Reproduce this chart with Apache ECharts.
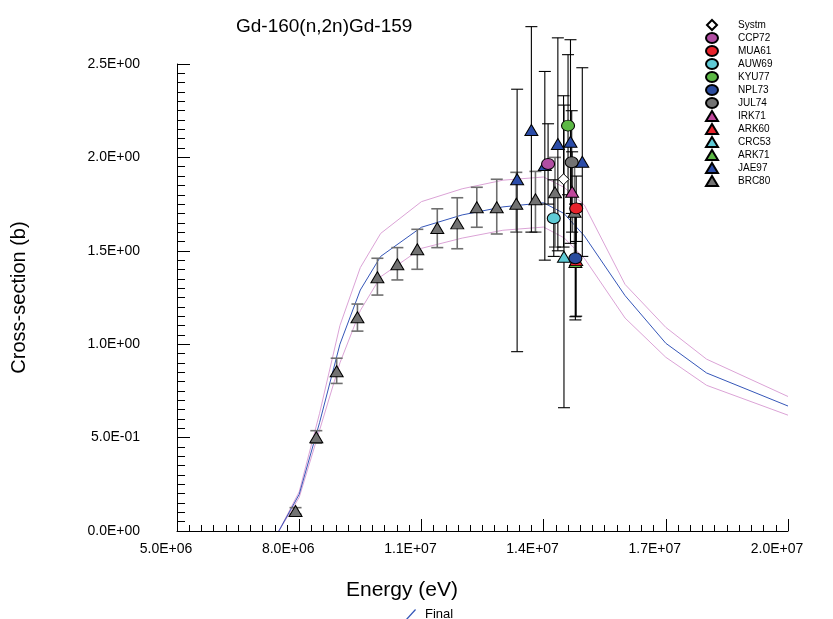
<!DOCTYPE html>
<html><head><meta charset="utf-8">
<script src="https://cdn.jsdelivr.net/npm/echarts@6/dist/echarts.min.js"></script>
<style>html,body{margin:0;padding:0;background:#fff}#c{width:833px;height:619px}</style>
</head><body><div id="c"></div>
<script>
// ---- curves (energy in eV, cross-section in b) ----
var curveE     = [7.5e6, 8.0e6, 8.5e6, 9.0e6, 9.5e6, 1.0e7, 1.1e7, 1.2e7, 1.3e7, 1.4e7, 1.45e7, 1.5e7, 1.6e7, 1.7e7, 1.8e7, 2.0e7];
var finalXS    = [0.0, 0.196, 0.58, 1.00, 1.29, 1.47, 1.626, 1.692, 1.735, 1.757, 1.70, 1.58, 1.26, 1.005, 0.846, 0.669];
var upperXS    = [0.0, 0.21, 0.63, 1.10, 1.41, 1.593, 1.763, 1.832, 1.878, 1.895, 1.84, 1.745, 1.32, 1.09, 0.92, 0.72];
var lowerXS    = [0.0, 0.18, 0.54, 0.90, 1.18, 1.361, 1.513, 1.568, 1.61, 1.627, 1.57, 1.46, 1.14, 0.93, 0.78, 0.62];

// ---- experimental data sets: energy, value, lower bound, upper bound ----
var brc80E  = [7.91e6, 8.42e6, 8.92e6, 9.43e6, 9.92e6, 1.041e7, 1.09e7, 1.139e7, 1.188e7, 1.236e7, 1.285e7, 1.333e7, 1.380e7, 1.428e7, 1.476e7];
var brc80Y  = [0.107, 0.502, 0.855, 1.144, 1.358, 1.428, 1.508, 1.622, 1.647, 1.733, 1.733, 1.752, 1.776, 1.813, 1.709];
var brc80Lo = [0.09, 0.47, 0.79, 1.07, 1.263, 1.344, 1.401, 1.517, 1.511, 1.626, 1.59, 1.60, 1.60, 1.52, 1.45];
var brc80Hi = [0.125, 0.537, 0.925, 1.215, 1.46, 1.517, 1.615, 1.725, 1.784, 1.84, 1.883, 1.92, 1.925, 2.00, 1.95];

var jae97E  = [1.335e7, 1.370e7, 1.403e7, 1.435e7, 1.466e7, 1.495e7];
var jae97Y  = [1.883, 2.147, 1.959, 2.072, 2.084, 1.977];
var jae97Lo = [0.96, 1.60, 1.45, 1.50, 1.54, 1.47];
var jae97Hi = [2.365, 2.70, 2.46, 2.64, 2.63, 2.48];

var systmE = [1.449e7], systmY = [1.883], systmLo = [1.52], systmHi = [2.33];
var ccp72E = [1.411e7], ccp72Y = [1.965], ccp72Lo = [1.75], ccp72Hi = [2.18];
var mua61E = [1.480e7], mua61Y = [1.727], mua61Lo = [1.55], mua61Hi = [1.90];
var auw69E = [1.425e7], auw69Y = [1.674], auw69Lo = [1.47], auw69Hi = [1.88];
var kyu77E = [1.460e7], kyu77Y = [2.17], kyu77Lo = [1.80], kyu77Hi = [2.55];
var npl73E = [1.478e7], npl73Y = [1.46], npl73Lo = [1.147], npl73Hi = [1.75];
var jul74E = [1.469e7], jul74Y = [1.974], jul74Lo = [1.70], jul74Hi = [2.25];
var irk71E = [1.470e7], irk71Y = [1.816], irk71Lo = [1.60], irk71Hi = [2.03];
var ark60E = [1.480e7], ark60Y = [1.45], ark60Lo = [1.15], ark60Hi = [1.75];
var crc53E = [1.450e7], crc53Y = [1.468], crc53Lo = [0.66], crc53Hi = [2.28];
var ark71E = [1.478e7], ark71Y = [1.44], ark71Lo = [1.13], ark71Hi = [1.75];

var xTicks = [5e6, 8e6, 1.1e7, 1.4e7, 1.7e7, 2e7];
var yTicks = [0, 0.5, 1.0, 1.5, 2.0, 2.5];

function sci(v){
  if (v === 0) return '0.0E+00';
  var e = Math.floor(Math.log10(Math.abs(v)) + 1e-9);
  var m = v / Math.pow(10, e);
  var s = m.toFixed(1);
  if (s === '10.0') { e++; s = '1.0'; }
  var ae = Math.abs(e);
  return s + 'E' + (e < 0 ? '-' : '+') + (ae < 10 ? '0' : '') + ae;
}
function zip(a, b){ return a.map(function(v, i){ return [v, b[i]]; }); }
function zip3(a, b, c){ return a.map(function(v, i){ return [v, b[i], c[i]]; }); }

var ELLIPSE = 'path://M0,5A6,5 0 1,0 12,5A6,5 0 1,0 0,5Z';
var DIAMOND = 'path://M6,0L12,6L6,12L0,6Z';

var sets = [
  {name:'Systm', E:systmE, Y:systmY, Lo:systmLo, Hi:systmHi, sym:DIAMOND, size:[11,11], color:'#ffffff', bar:'#000'},
  {name:'CCP72', E:ccp72E, Y:ccp72Y, Lo:ccp72Lo, Hi:ccp72Hi, sym:ELLIPSE, size:[13,11], color:'#b14ea3', bar:'#000'},
  {name:'MUA61', E:mua61E, Y:mua61Y, Lo:mua61Lo, Hi:mua61Hi, sym:ELLIPSE, size:[13,11], color:'#e8232b', bar:'#000'},
  {name:'AUW69', E:auw69E, Y:auw69Y, Lo:auw69Lo, Hi:auw69Hi, sym:ELLIPSE, size:[13,11], color:'#5fcbd6', bar:'#000'},
  {name:'KYU77', E:kyu77E, Y:kyu77Y, Lo:kyu77Lo, Hi:kyu77Hi, sym:ELLIPSE, size:[13,11], color:'#5cb845', bar:'#000'},
  {name:'NPL73', E:npl73E, Y:npl73Y, Lo:npl73Lo, Hi:npl73Hi, sym:ELLIPSE, size:[13,11], color:'#2b4c9e', bar:'#000'},
  {name:'JUL74', E:jul74E, Y:jul74Y, Lo:jul74Lo, Hi:jul74Hi, sym:ELLIPSE, size:[13,11], color:'#727272', bar:'#000'},
  {name:'IRK71', E:irk71E, Y:irk71Y, Lo:irk71Lo, Hi:irk71Hi, sym:'triangle', size:[13,11], color:'#c0479c', bar:'#000'},
  {name:'ARK60', E:ark60E, Y:ark60Y, Lo:ark60Lo, Hi:ark60Hi, sym:'triangle', size:[13,11], color:'#e8232b', bar:'#000'},
  {name:'CRC53', E:crc53E, Y:crc53Y, Lo:crc53Lo, Hi:crc53Hi, sym:'triangle', size:[13,11], color:'#5fcbd6', bar:'#000'},
  {name:'ARK71', E:ark71E, Y:ark71Y, Lo:ark71Lo, Hi:ark71Hi, sym:'triangle', size:[13,11], color:'#5cb845', bar:'#000'},
  {name:'JAE97', E:jae97E, Y:jae97Y, Lo:jae97Lo, Hi:jae97Hi, sym:'triangle', size:[13,11], color:'#2b4ca8', bar:'#000'},
  {name:'BRC80', E:brc80E, Y:brc80Y, Lo:brc80Lo, Hi:brc80Hi, sym:'triangle', size:[13,11], color:'#727272', bar:'#6f6f6f'}
];

function errRender(color, width){
  return function(params, api){
    var x = api.value(0), lo = api.value(1), hi = api.value(2);
    var p1 = api.coord([x, lo]), p2 = api.coord([x, hi]);
    var hw = 6;
    var st = {stroke: color, lineWidth: width};
    return {type:'group', children:[
      {type:'line', shape:{x1:p1[0], y1:p1[1], x2:p2[0], y2:p2[1]}, style:st},
      {type:'line', shape:{x1:p1[0]-hw, y1:p1[1], x2:p1[0]+hw, y2:p1[1]}, style:st},
      {type:'line', shape:{x1:p2[0]-hw, y1:p2[1], x2:p2[0]+hw, y2:p2[1]}, style:st}
    ]};
  };
}

var FONT = '"Liberation Sans", Arial, sans-serif';
var series = [
  {name:'Upper', type:'line', data:zip(curveE, upperXS), symbol:'none', lineStyle:{color:'#dba3d6', width:1}, z:1, silent:true},
  {name:'Lower', type:'line', data:zip(curveE, lowerXS), symbol:'none', lineStyle:{color:'#dba3d6', width:1}, z:1, silent:true},
  {name:'Final', type:'line', data:zip(curveE, finalXS), symbol:'none', lineStyle:{color:'#3556b8', width:1}, itemStyle:{color:'#3556b8'}, z:2, silent:true}
];
sets.slice().reverse().forEach(function(s){
  series.push({name:s.name + ' err', type:'custom', renderItem:errRender(s.bar, s.name === 'BRC80' ? 1.6 : 1.1),
    data:zip3(s.E, s.Lo, s.Hi), clip:false, z:3, silent:true});
});
sets.slice().reverse().forEach(function(s){
  series.push({name:s.name, type:'scatter', data:zip(s.E, s.Y), symbol:s.sym, symbolSize:s.size,
    itemStyle:{color:s.color, borderColor:'#000', borderWidth:1, opacity:1}, z:5, silent:true});
});

var chart = echarts.init(document.getElementById('c'), null, {renderer:'canvas'});
chart.setOption({
  animation:false,
  backgroundColor:'#fff',
  textStyle:{fontFamily:FONT},
  title:{text:'Gd-160(n,2n)Gd-159', left:231, top:12, textStyle:{fontSize:19, fontWeight:'normal', color:'#000', fontFamily:FONT}},
  grid:{left:177, right:45, top:64, bottom:88, containLabel:false},
  legend:[
    {data:sets.map(function(s){ return s.name; }), orient:'vertical', left:700, top:14, itemWidth:12, itemHeight:10, itemGap:1,
     textStyle:{fontSize:10, lineHeight:10, height:10, color:'#000', fontFamily:FONT, padding:[0,0,0,15]}, selectedMode:false},
    {data:[{name:'Final', icon:'path://M0,11L10,0L11,1L1,12Z'}], left:401, top:603, itemWidth:10, itemHeight:11,
     textStyle:{fontSize:13, color:'#000', fontFamily:FONT, padding:[0,0,0,4]}, selectedMode:false}
  ],
  xAxis:{type:'value', min:xTicks[0], max:xTicks[xTicks.length-1], interval:xTicks[1]-xTicks[0],
    name:'Energy (eV)', nameLocation:'middle', nameGap:49,
    nameTextStyle:{fontSize:21, color:'#000', fontFamily:FONT, padding:[0,161,0,0]},
    axisLine:{lineStyle:{color:'#000', width:1}},
    axisTick:{inside:true, length:12, lineStyle:{color:'#000'}},
    minorTick:{show:true, splitNumber:10, length:6, lineStyle:{color:'#000'}},
    splitLine:{show:false},
    axisLabel:{formatter:sci, fontSize:14, color:'#000', margin:11, fontFamily:FONT, padding:[0,22,0,0]}},
  yAxis:{type:'value', min:yTicks[0], max:yTicks[yTicks.length-1], interval:yTicks[1]-yTicks[0],
    name:'Cross-section (b)', nameLocation:'middle', nameGap:148, nameRotate:90,
    nameTextStyle:{fontSize:20, color:'#000', fontFamily:FONT},
    axisLine:{show:true, lineStyle:{color:'#000', width:1}},
    axisTick:{inside:true, length:13, lineStyle:{color:'#000'}},
    minorTick:{show:true, splitNumber:10, length:8, lineStyle:{color:'#000'}},
    splitLine:{show:false},
    axisLabel:{formatter:sci, fontSize:14, color:'#000', margin:37, fontFamily:FONT}},
  series:series
});
</script></body></html>
